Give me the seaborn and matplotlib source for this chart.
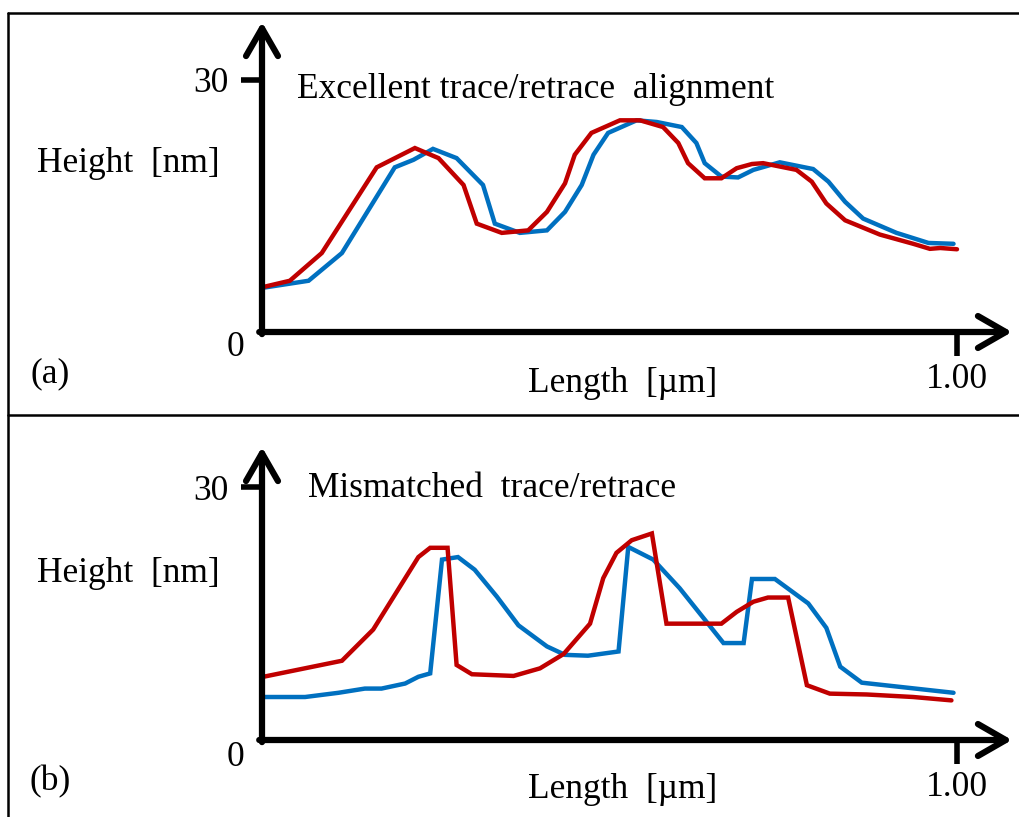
import numpy as np
import pandas as pd
import matplotlib
matplotlib.use("Agg")
import matplotlib.pyplot as plt
from matplotlib.lines import Line2D
import seaborn as sns

# ---------------- data ----------------
# Panel (a): excellent trace/retrace alignment
a_trace_x = [0.004, 0.040, 0.086, 0.165, 0.220, 0.254, 0.290, 0.309, 0.345, 0.383, 0.410, 0.436,
             0.450, 0.474, 0.515, 0.544, 0.577, 0.599, 0.613, 0.637, 0.661, 0.683, 0.705, 0.721,
             0.769, 0.791, 0.812, 0.839, 0.889, 0.937, 0.961, 0.976, 1.000]
a_trace_y = [5.4, 6.1, 9.4, 19.6, 21.9, 20.7, 17.5, 12.9, 11.8, 12.1, 14.3, 17.7,
             21.1, 23.7, 25.2, 25.2, 24.4, 22.5, 20.1, 18.3, 18.3, 19.5, 20.0, 20.1,
             19.3, 17.9, 15.3, 13.3, 11.6, 10.5, 9.9, 10.0, 9.85]
a_retrace_x = [0.004, 0.067, 0.115, 0.191, 0.218, 0.246, 0.280, 0.318, 0.335, 0.371, 0.410, 0.436,
               0.460, 0.477, 0.498, 0.539, 0.568, 0.604, 0.625, 0.637, 0.661, 0.685, 0.707, 0.745,
               0.793, 0.815, 0.839, 0.865, 0.913, 0.959, 0.995]
a_retrace_y = [5.3, 6.1, 9.4, 19.6, 20.5, 21.8, 20.7, 17.5, 12.9, 11.8, 12.1, 14.3,
               17.5, 21.1, 23.7, 25.2, 25.0, 24.4, 22.5, 20.1, 18.5, 18.4, 19.3, 20.2,
               19.4, 17.9, 15.5, 13.5, 11.8, 10.6, 10.5]

# Panel (b): mismatched trace/retrace
b_trace_x = [0.002, 0.115, 0.160, 0.225, 0.242, 0.267, 0.280, 0.302, 0.362, 0.400, 0.434, 0.472,
             0.491, 0.510, 0.532, 0.561, 0.582, 0.661, 0.683, 0.707, 0.728, 0.757, 0.784, 0.817,
             0.870, 0.937, 0.992]
b_trace_y = [7.5, 9.4, 13.1, 21.7, 22.8, 22.8, 8.9, 7.8, 7.6, 8.5, 10.2, 13.8,
             19.2, 22.2, 23.7, 24.5, 13.8, 13.8, 15.2, 16.4, 16.9, 16.9, 6.5, 5.5,
             5.4, 5.1, 4.7]
b_retrace_x = [0.002, 0.062, 0.110, 0.148, 0.172, 0.206, 0.225, 0.242, 0.259, 0.282, 0.306, 0.338,
               0.369, 0.410, 0.436, 0.469, 0.513, 0.527, 0.563, 0.601, 0.664, 0.693, 0.705, 0.738,
               0.786, 0.812, 0.832, 0.863, 0.995]
b_retrace_y = [5.1, 5.1, 5.6, 6.1, 6.1, 6.7, 7.5, 7.9, 21.4, 21.7, 20.2, 17.0,
               13.6, 11.1, 10.1, 10.0, 10.5, 22.9, 21.4, 18.0, 11.5, 11.5, 19.1, 19.1,
               16.2, 13.3, 8.7, 6.8, 5.6]

panel_titles = ["Excellent trace/retrace  alignment", "Mismatched  trace/retrace"]
panel_letters = ["(a)", "(b)"]
y_label = "Height  [nm]"
x_label = "Length  [\u00b5m]"
y_tick_labels = ["0", "30"]
x_tick_label = "1.00"

RED = "#C00000"
BLUE = "#0070C0"

sns.set_style("white")
plt.rcParams["font.family"] = ["Liberation Serif", "DejaVu Serif"]
plt.rcParams["text.color"] = "black"
plt.rcParams["xtick.color"] = "black"
plt.rcParams["ytick.color"] = "black"
plt.rcParams["xtick.labelcolor"] = "black"
plt.rcParams["ytick.labelcolor"] = "black"

W, H = 1019, 817
fig = plt.figure(figsize=(W / 100, H / 100), dpi=100)


def fx(px):
    return px / W


def fy(py):
    return 1 - py / H


FS = 25.5
AXW = 4.5


def make_panel(x0px, y0px, xtip_px, ytip_px, px_per_nm, trace, retrace, title,
               letter, title_xy, ylab_y, letter_y, zero_y, length_y):
    xunit = 695.0
    ax = fig.add_axes([fx(x0px), fy(y0px), (xtip_px - x0px) / W, (y0px - ytip_px) / H])
    xmax = (xtip_px - x0px) / xunit
    ymax = (y0px - ytip_px) / px_per_nm
    ax.set_xlim(0, xmax)
    ax.set_ylim(0, ymax)
    ax.patch.set_alpha(0)
    for s in ax.spines.values():
        s.set_visible(False)

    df_r = pd.DataFrame({"x": retrace[0], "y": retrace[1]})
    df_t = pd.DataFrame({"x": trace[0], "y": trace[1]})
    sns.lineplot(data=df_r, x="x", y="y", ax=ax, color=BLUE, lw=3.2, sort=False,
                 estimator=None, solid_joinstyle="miter")
    sns.lineplot(data=df_t, x="x", y="y", ax=ax, color=RED, lw=3.2, sort=False,
                 estimator=None, solid_joinstyle="miter")

    arrow = dict(arrowstyle="->,head_length=2.0,head_width=1.15", lw=AXW, color="black",
                 shrinkA=0, shrinkB=0, capstyle="round", joinstyle="round")
    ax.annotate("", xy=(xmax, 0), xytext=(-0.004, 0), arrowprops=arrow,
                annotation_clip=False, xycoords="data")
    ax.annotate("", xy=(0, ymax), xytext=(0, -0.25), arrowprops=arrow,
                annotation_clip=False, xycoords="data")

    ax.set_yticks([30])
    ax.set_yticklabels([y_tick_labels[1]], fontsize=FS, color="black")
    ax.set_xticks([1.0])
    ax.set_xticklabels([x_tick_label], fontsize=FS, color="black")
    ax.tick_params(axis="y", direction="out", length=15, width=4, pad=9, left=True,
                   color="black")
    ax.tick_params(axis="x", direction="out", length=17, width=4, pad=5, bottom=True,
                   color="black")
    ax.set_xlabel("")
    ax.set_ylabel("")

    fig.text(fx(title_xy[0]), fy(title_xy[1]), title, fontsize=FS, ha="left", va="center",
             color="black")
    fig.text(fx(128), fy(ylab_y), y_label, fontsize=FS, ha="center", va="center", color="black")
    fig.text(fx(50), fy(letter_y), letter, fontsize=FS, ha="center", va="center", color="black")
    fig.text(fx(235), fy(zero_y), y_tick_labels[0], fontsize=FS, ha="center", va="center",
             color="black")
    fig.text(fx(623), fy(length_y), x_label, fontsize=FS, ha="center", va="center",
             color="black")
    return ax


make_panel(262, 332, 1012, 22, 8.4, (a_trace_x, a_trace_y), (a_retrace_x, a_retrace_y),
           panel_titles[0], panel_letters[0], (297, 90), 163, 374, 348, 383)
make_panel(262, 740, 1012, 447, 8.43, (b_trace_x, b_trace_y), (b_retrace_x, b_retrace_y),
           panel_titles[1], panel_letters[1], (308, 488), 573, 782, 757, 790)

# frame lines around the panels
for (x1, y1, x2, y2) in [(8, 13, W + 5, 13), (8, 13, 8, H + 5), (8, 415, W + 5, 415)]:
    fig.add_artist(Line2D([fx(x1), fx(x2)], [fy(y1), fy(y2)], color="black", lw=1.8,
                          transform=fig.transFigure))

fig.savefig("out.png", dpi=100)
